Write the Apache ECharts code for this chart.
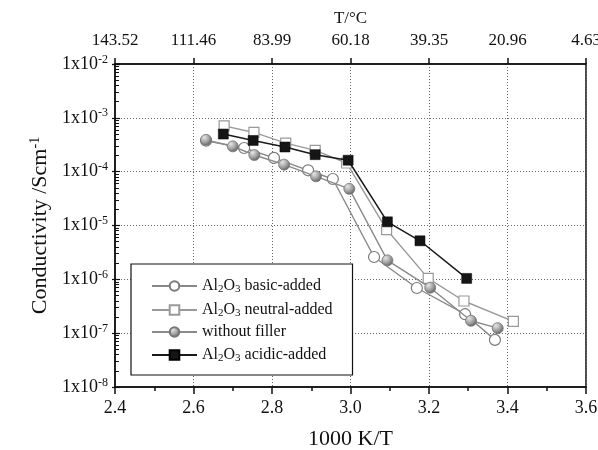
<!DOCTYPE html>
<html>
<head>
<meta charset="utf-8">
<script src="https://cdn.jsdelivr.net/npm/echarts@6/dist/echarts.min.js"></script>
<style>
  html, body { margin: 0; padding: 0; background: #fff; }
  #chart { width: 598px; height: 450px; }
</style>
</head>
<body>
<div id="chart"></div>
<script>
// Inverse temperature axis (1000 K/T) and the matching Celsius labels on top
const xMin = 2.4, xMax = 3.6, xStep = 0.2;
const topTickLabels = ['143.52', '111.46', '83.99', '60.18', '39.35', '20.96', '4.63'];
const yExponents = [-8, -7, -6, -5, -4, -3, -2];

// Conductivity (S/cm) versus 1000/T for each electrolyte
const basicX = [2.632, 2.729, 2.805, 2.892, 2.955, 3.060, 3.169, 3.292, 3.368];
const basicY = [3.75e-4, 2.75e-4, 1.8e-4, 1.06e-4, 7.3e-5, 2.6e-6, 6.9e-7, 2.25e-7, 7.5e-8];

const neutralX = [2.678, 2.754, 2.835, 2.910, 2.990, 3.092, 3.198, 3.289, 3.415];
const neutralY = [7.1e-4, 5.35e-4, 3.4e-4, 2.48e-4, 1.45e-4, 8.4e-6, 1.04e-6, 3.96e-7, 1.65e-7];

const noFillerX = [2.632, 2.700, 2.755, 2.831, 2.912, 2.997, 3.094, 3.203, 3.307, 3.375];
const noFillerY = [3.9e-4, 2.95e-4, 2.04e-4, 1.35e-4, 8.2e-5, 4.8e-5, 2.25e-6, 7.0e-7, 1.7e-7, 1.24e-7];

const acidicX = [2.676, 2.752, 2.833, 2.910, 2.994, 3.094, 3.177, 3.296];
const acidicY = [5.0e-4, 3.8e-4, 2.87e-4, 2.07e-4, 1.63e-4, 1.17e-5, 5.2e-6, 1.04e-6];

const seriesNames = [
  '{t|Al}{s|2}{t|O}{s|3}{t| basic-added}',
  '{t|Al}{s|2}{t|O}{s|3}{t| neutral-added}',
  '{t|without filler}',
  '{t|Al}{s|2}{t|O}{s|3}{t| acidic-added}'
];

const pairs = (xs, ys) => xs.map((x, i) => [x, ys[i]]);

const FONT = '"Liberation Serif", "Times New Roman", serif';

const ballColor = {
  type: 'radial', x: 0.35, y: 0.3, r: 0.75,
  colorStops: [{ offset: 0, color: '#e6e6e6' }, { offset: 0.55, color: '#a0a0a0' }, { offset: 1, color: '#5a5a5a' }]
};

const chart = echarts.init(document.getElementById('chart'), null, { renderer: 'canvas' });

const axisLine = { show: true, lineStyle: { color: '#111', width: 1.5 } };
const gridLine = { show: true, lineStyle: { color: '#666', width: 1, type: [1, 2] } };
const supStyle = { fontFamily: FONT, fontSize: 12, color: '#111', verticalAlign: 'top', padding: [0, 0, 9, 0] };

chart.setOption({
  animation: false,
  backgroundColor: '#fff',
  grid: {
    left: 115, right: 12, top: 64, bottom: 63,
    outerBoundsMode: 'none', containLabel: false,
    show: true, borderColor: '#111', borderWidth: 1.5, backgroundColor: 'transparent'
  },
  legend: {
    left: 131, top: 264,
    orient: 'vertical',
    backgroundColor: '#fff',
    borderColor: '#111', borderWidth: 1.2,
    padding: [12, 20, 11, 20],
    itemWidth: 45, itemHeight: 12, itemGap: 5,
    formatter: (name) => name,
    textStyle: {
      fontFamily: FONT, color: '#111',
      rich: {
        t: { fontFamily: FONT, fontSize: 16, color: '#111', lineHeight: 18 },
        s: { fontFamily: FONT, fontSize: 11, color: '#111', verticalAlign: 'bottom', lineHeight: 10, padding: [8, 0, 0, 0] }
      }
    },
    data: seriesNames
  },
  xAxis: [
    {
      type: 'value', position: 'bottom', min: xMin, max: xMax, interval: xStep,
      name: '1000 K/T', nameLocation: 'middle', nameGap: 41,
      nameTextStyle: { fontFamily: FONT, fontSize: 22, color: '#111' },
      axisLine: axisLine,
      axisTick: { show: true, inside: false, length: 7, lineStyle: { color: '#111', width: 1.5 } },
      minorTick: { show: true, splitNumber: 2, length: 4, lineStyle: { color: '#111', width: 1.5 } },
      axisLabel: { fontFamily: FONT, fontSize: 18, color: '#111', margin: 12, formatter: (v) => v.toFixed(1) },
      splitLine: gridLine
    },
    {
      type: 'value', position: 'top', min: xMin, max: xMax, interval: xStep,
      name: 'T/°C', nameLocation: 'middle', nameGap: 37,
      nameTextStyle: { fontFamily: FONT, fontSize: 17, color: '#111' },
      axisLine: axisLine,
      axisTick: { show: true, inside: false, length: 6, lineStyle: { color: '#111', width: 1.5 } },
      axisLabel: {
        fontFamily: FONT, fontSize: 17, color: '#111', margin: 15,
        formatter: (v) => topTickLabels[Math.round((v - xMin) / xStep)]
      },
      splitLine: { show: false }
    }
  ],
  yAxis: [
    {
      type: 'log', logBase: 10, min: 1e-8, max: 1e-2,
      name: 'Conductivity /Scm{sup|-1}', nameLocation: 'middle', nameGap: 62, nameRotate: 90,
      nameTextStyle: {
        fontFamily: FONT, fontSize: 22, color: '#111',
        rich: { sup: { fontFamily: FONT, fontSize: 14, color: '#111', verticalAlign: 'top', padding: [0, 0, 9, 0] } }
      },
      axisLine: axisLine,
      axisTick: { show: true, inside: true, length: 5, lineStyle: { color: '#111', width: 1.2 } },
      minorTick: { show: true, splitNumber: 9, length: 4, lineStyle: { color: '#111', width: 1 } },
      axisLabel: {
        fontFamily: FONT, fontSize: 18, color: '#111', margin: 7,
        formatter: (v) => '1x10{sup|' + yExponents[yExponents.indexOf(Math.round(Math.log10(v)))] + '}',
        rich: { sup: supStyle }
      },
      splitLine: gridLine
    },
    {
      // outward half of the decade ticks on the left axis
      type: 'log', logBase: 10, min: 1e-8, max: 1e-2, position: 'left',
      axisLine: { show: false },
      axisTick: { show: true, inside: false, length: 3, lineStyle: { color: '#111', width: 1.2 } },
      axisLabel: { show: false },
      splitLine: { show: false }
    }
  ],
  series: [
    {
      name: seriesNames[0], type: 'line', data: pairs(basicX, basicY),
      symbol: 'circle', symbolSize: 11,
      lineStyle: { color: '#888', width: 1.4 },
      itemStyle: { color: '#fff', borderColor: '#7a7a7a', borderWidth: 1.2 },
      z: 2
    },
    {
      name: seriesNames[1], type: 'line', data: pairs(neutralX, neutralY),
      symbol: 'rect', symbolSize: 10,
      lineStyle: { color: '#9a9a9a', width: 1.4 },
      itemStyle: { color: '#fff', borderColor: '#999', borderWidth: 1.2 },
      z: 3
    },
    {
      name: seriesNames[2], type: 'line', data: pairs(noFillerX, noFillerY),
      symbol: 'circle', symbolSize: 11,
      lineStyle: { color: '#8a8a8a', width: 1.4 },
      itemStyle: { color: ballColor, borderColor: '#777', borderWidth: 0.8 },
      z: 4
    },
    {
      name: seriesNames[3], type: 'line', data: pairs(acidicX, acidicY),
      symbol: 'rect', symbolSize: 10,
      lineStyle: { color: '#1a1a1a', width: 1.5 },
      itemStyle: { color: '#151515', borderColor: '#000', borderWidth: 0.5 },
      z: 5
    }
  ]
});
</script>
</body>
</html>
